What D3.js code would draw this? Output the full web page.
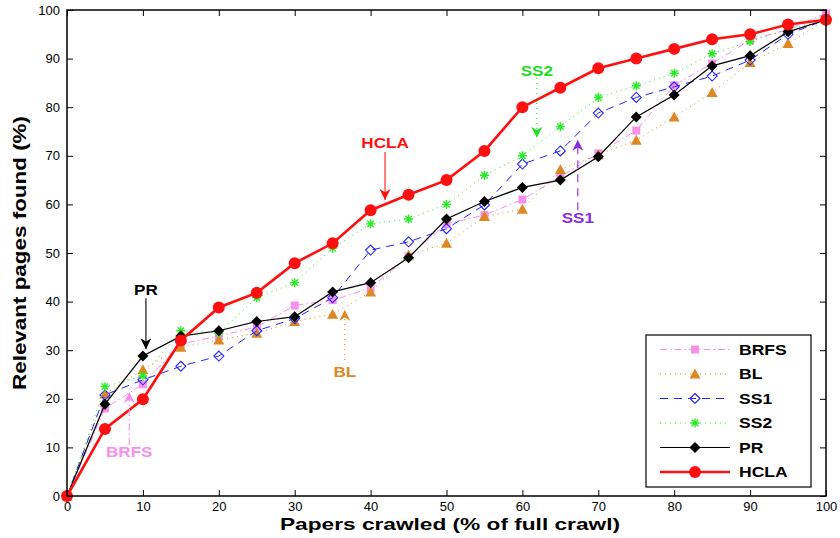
<!DOCTYPE html>
<html>
<head>
<meta charset="utf-8">
<script src="https://cdn.jsdelivr.net/npm/d3@7"></script>
<style>
  body { margin: 0; background: #fff; }
  text { font-family: "Liberation Sans", Arial, sans-serif; }
</style>
</head>
<body>
<svg id="chart" width="840" height="538"></svg>
<script>
// crawl fraction (x) and relevant pages found per method (y)
var crawl = [0, 5, 10, 15, 20, 25, 30, 35, 40, 45, 50, 55, 60, 65, 70, 75, 80, 85, 90, 95, 100];
var brfs = [0, 18, 23, 31.3, 32.9, 34.8, 39.2, 40.3, 42.8, 49.3, 56, 57.8, 61, 65.7, 70.5, 75.2, 84.5, 89, 93.8, 96, 99.3];
var bl   = [0, 21, 26, 30.6, 32.1, 33.5, 35.9, 37.4, 42, 49.6, 52, 57.5, 59, 67.2, 70.2, 73.2, 78, 83, 89.2, 93.1, 98];
var ss1  = [0, 20.8, 23.9, 26.7, 28.8, 34, 36.5, 40.8, 50.6, 52.3, 55, 59.9, 68.3, 71, 78.8, 82, 84.2, 86.4, 89.7, 95, 98];
var ss2  = [0, 22.5, 24.7, 34, 33.5, 40.8, 43.9, 51, 56, 57, 60, 66, 70, 76, 82, 84.4, 87, 91, 93.5, 96, 98];
var pr   = [0, 18.9, 28.8, 32.9, 34, 35.9, 36.9, 42, 43.9, 49, 57, 60.6, 63.5, 65, 69.8, 78, 82.5, 88.5, 90.6, 95.5, 98];
var hcla = [0, 13.8, 19.9, 32, 38.8, 41.8, 47.9, 52, 58.8, 62, 65, 71, 80, 84, 88, 90, 92, 94, 95, 97, 98];

var names = ['BRFS', 'BL', 'SS1', 'SS2', 'PR', 'HCLA'];
var xTicks = [0, 10, 20, 30, 40, 50, 60, 70, 80, 90, 100];
var yTicks = [0, 10, 20, 30, 40, 50, 60, 70, 80, 90, 100];

// annotation labels: [name, text x, text y, arrow from y, arrow to y]
var notes = [
  ['PR', 10.4, 42.4, 40.7, 30.2],
  ['BRFS', 8.2, 9, 10.5, 21.4],
  ['BL', 36.6, 25.5, 28, 38.3],
  ['HCLA', 41.9, 72.6, 70.8, 60.9],
  ['SS2', 61.9, 87.4, 86, 73.7],
  ['SS1', 67.3, 57.2, 58.8, 73.3]
];

var margin = { top: 10, right: 14, bottom: 42, left: 67 };
var svg = d3.select('#chart');
var width = +svg.attr('width') - margin.left - margin.right;
var height = +svg.attr('height') - margin.top - margin.bottom;

var x = d3.scaleLinear().domain([0, 100]).range([0, width]);
var y = d3.scaleLinear().domain([0, 100]).range([height, 0]);

var styles = {
  BRFS: { color: '#f890ea', width: 1, dash: '7,3,1.5,3', marker: 'square', label: '#f890ea' },
  BL:   { color: '#dd8822', width: 1, dash: '1,4', marker: 'triangle', label: '#dd8822' },
  SS1:  { color: '#2424ff', width: 1, dash: '8,6', marker: 'diamondOpen', label: '#8a2be2' },
  SS2:  { color: '#22ee22', width: 1, dash: '1,4', marker: 'star', label: '#22dd22' },
  PR:   { color: '#000000', width: 1.2, dash: null, marker: 'diamond', label: '#000000' },
  HCLA: { color: '#ff1010', width: 2.6, dash: null, marker: 'circle', label: '#ff1010' }
};
var values = { BRFS: brfs, BL: bl, SS1: ss1, SS2: ss2, PR: pr, HCLA: hcla };

// the original figure's bold labels are a little wider than the font
function stretch(sel, k) {
  sel.each(function () {
    var w = this.getComputedTextLength();
    d3.select(this).attr('textLength', w * k).attr('lengthAdjust', 'spacingAndGlyphs');
  });
}

var g = svg.append('g')
  .attr('transform', 'translate(' + margin.left + ',' + margin.top + ')');

// draw one marker at 0,0
function marker(sel, kind, color) {
  switch (kind) {
    case 'square':
      sel.append('rect').attr('x', -4).attr('y', -4).attr('width', 8).attr('height', 8)
        .attr('fill', color);
      break;
    case 'triangle':
      sel.append('path').attr('d', 'M0,-5.5L5.5,4.5L-5.5,4.5Z').attr('fill', color);
      break;
    case 'diamondOpen':
      sel.append('path').attr('d', 'M0,-5L5,0L0,5L-5,0Z')
        .attr('fill', 'none').attr('stroke', color).attr('stroke-width', 1.1);
      break;
    case 'diamond':
      sel.append('path').attr('d', 'M0,-5.5L5.5,0L0,5.5L-5.5,0Z').attr('fill', color);
      break;
    case 'star':
      sel.append('path').attr('d', 'M-4.5,0H4.5M0,-4.5V4.5M-3.2,-3.2L3.2,3.2M-3.2,3.2L3.2,-3.2')
        .attr('stroke', color).attr('stroke-width', 1.4);
      break;
    case 'circle':
      sel.append('circle').attr('r', 6).attr('fill', color);
      break;
  }
}

var line = d3.line()
  .x(function (d) { return x(d[0]); })
  .y(function (d) { return y(d[1]); });

names.forEach(function (name) {
  var s = styles[name];
  var pts = crawl.map(function (c, i) { return [c, values[name][i]]; });
  g.append('path')
    .datum(pts)
    .attr('d', line)
    .attr('fill', 'none')
    .attr('stroke', s.color)
    .attr('stroke-width', s.width)
    .attr('stroke-dasharray', s.dash);
  g.selectAll('g.m-' + name)
    .data(pts)
    .enter()
    .append('g')
    .attr('class', 'm-' + name)
    .attr('transform', function (d) { return 'translate(' + x(d[0]) + ',' + y(d[1]) + ')'; })
    .each(function () { marker(d3.select(this), s.marker, s.color); });
});

// annotations
svg.append('defs').selectAll('marker')
  .data(notes)
  .enter()
  .append('marker')
  .attr('id', function (d) { return 'arrow-' + d[0]; })
  .attr('viewBox', '0 0 10 10')
  .attr('refX', 10).attr('refY', 5)
  .attr('markerWidth', 11).attr('markerHeight', 11)
  .attr('markerUnits', 'userSpaceOnUse')
  .attr('orient', 'auto')
  .append('path')
  .attr('d', 'M0,0L10,5L0,10L3,5Z')
  .attr('fill', function (d) { return styles[d[0]].label; });

notes.forEach(function (n) {
  var s = styles[n[0]];
  g.append('line')
    .attr('x1', x(n[1])).attr('x2', x(n[1]))
    .attr('y1', y(n[3])).attr('y2', y(n[4]))
    .attr('stroke', s.label)
    .attr('stroke-width', 1.1)
    .attr('stroke-dasharray', s.dash)
    .attr('marker-end', 'url(#arrow-' + n[0] + ')');
  g.append('text')
    .attr('x', x(n[1])).attr('y', y(n[2]))
    .attr('text-anchor', 'middle')
    .attr('dy', '0.36em')
    .attr('font-size', 14)
    .attr('font-weight', 'bold')
    .attr('fill', s.label)
    .text(n[0])
    .call(stretch, 1.22);
});

// frame and ticks
g.append('rect')
  .attr('width', width).attr('height', height)
  .attr('fill', 'none').attr('stroke', '#000').attr('stroke-width', 1.5);

var xAxis = g.append('g')
  .attr('transform', 'translate(0,' + height + ')')
  .call(d3.axisBottom(x).tickValues(xTicks).tickSizeInner(-6).tickSizeOuter(0).tickPadding(6));
var xTop = g.append('g')
  .call(d3.axisTop(x).tickValues(xTicks).tickSizeInner(-6).tickSizeOuter(0).tickFormat(''));
var yAxis = g.append('g')
  .call(d3.axisLeft(y).tickValues(yTicks).tickSizeInner(-6).tickSizeOuter(0).tickPadding(7));
var yRight = g.append('g')
  .attr('transform', 'translate(' + width + ',0)')
  .call(d3.axisRight(y).tickValues(yTicks).tickSizeInner(-6).tickSizeOuter(0).tickFormat(''));

[xAxis, xTop, yAxis, yRight].forEach(function (a) {
  a.select('.domain').remove();
  a.selectAll('text').attr('font-size', 13).attr('fill', '#000')
    .attr('font-family', '"Liberation Sans", Arial, sans-serif');
});

// legend
var legend = g.append('g')
  .attr('transform', 'translate(' + (646 - margin.left) + ',' + (335 - margin.top) + ')');
legend.append('rect')
  .attr('width', 165).attr('height', 152)
  .attr('fill', '#fff').attr('stroke', '#000').attr('stroke-width', 1.2);
names.forEach(function (name, i) {
  var s = styles[name];
  var row = legend.append('g').attr('transform', 'translate(0,' + (14.5 + i * 24.5) + ')');
  row.append('line')
    .attr('x1', 14).attr('x2', 84)
    .attr('stroke', s.color).attr('stroke-width', s.width)
    .attr('stroke-dasharray', s.dash);
  marker(row.append('g').attr('transform', 'translate(49,0)'), s.marker, s.color);
  row.append('text')
    .attr('x', 93).attr('dy', '0.36em')
    .attr('font-size', 15).attr('font-weight', 'bold')
    .text(name)
    .call(stretch, 1.17);
});

// axis titles
svg.append('text')
  .attr('x', 450).attr('y', 530)
  .attr('text-anchor', 'middle')
  .attr('font-size', 17).attr('font-weight', 'bold')
  .attr('textLength', 340).attr('lengthAdjust', 'spacingAndGlyphs')
  .text('Papers crawled (% of full crawl)');
svg.append('text')
  .attr('transform', 'translate(26,253) rotate(-90)')
  .attr('text-anchor', 'middle')
  .attr('font-size', 18).attr('font-weight', 'bold')
  .attr('textLength', 274).attr('lengthAdjust', 'spacingAndGlyphs')
  .text('Relevant pages found (%)');
</script>
</body>
</html>
